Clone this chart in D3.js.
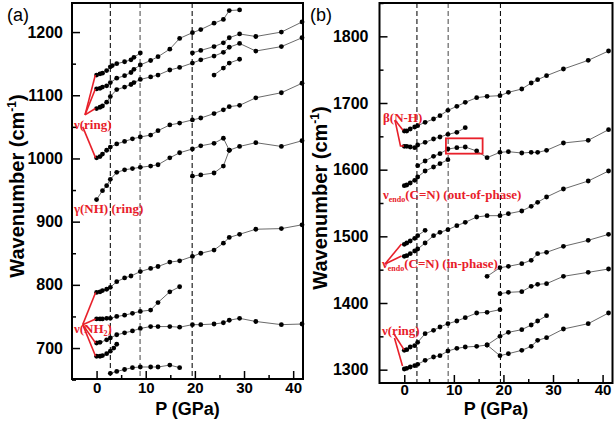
<!DOCTYPE html>
<html><head><meta charset="utf-8">
<script src="https://cdn.jsdelivr.net/npm/d3@7"></script>
<style>body{margin:0;background:#fff} svg{display:block}</style>
</head><body>
<svg id="chart" width="614" height="424"></svg>
<script>
// ---------- Panel (a) data: pressure (GPa) and wavenumber (cm-1) ----------
const a1P = [0,0.7,1.2,2.05,2.8,3.2,4.1,5.7,7.0,7.6,8.9];
const a1V = [1132,1134,1135,1139,1145,1147,1150,1153,1156,1160,1167];
const a2P = [0,0.7,1.2,2.05,2.8,4.1,5.7,7.0,7.6,8.9,11.0,12.5,14.9,16.9,19.5,21.2,23.9,25.8,27.0,29.1];
const a2V = [1110,1111,1113,1115,1120,1127,1131,1136,1141,1148,1155,1161,1173,1190,1199,1204,1214,1220,1234,1235];
const a3P = [0,0.7,1.2,2.05,2.8,4.1,5.7,7.0,7.6,8.9,11.0,12.5,14.9,16.9,19.5,21.2,23.9,25.8,27.0,29.1,32.4,37.6,41.8];
const a3V = [1079,1081,1083,1089,1098,1109,1113,1117,1120,1125,1129,1132,1140,1144,1151,1156,1162,1168,1176,1182,1170,1177,1191];
const a4P = [19.5,21.2,23.9,25.8,27.0,29.1,32.4,37.6,41.8];
const a4V = [1167,1171,1177,1183,1191,1197,1193,1200,1216];
const a5P = [23.9,25.8,27.0,29.1];
const a5V = [1132,1143,1151,1157];
const a6P = [0,0.7,1.2,2.05,2.8,4.1,5.7,7.3,8.9,11.0,12.5,14.9,16.9,19.5,21.2,23.9,25.8,27.0,29.1,32.4,37.6,41.8];
const a6V = [1001,1003,1007,1013,1018,1023,1027,1031,1034,1037,1044,1053,1056,1061,1064,1071,1077,1082,1084,1096,1104,1119];
const a7P = [0,1.2,2.05,2.8,4.1,5.7,7.3,8.9,11.0,12.5,14.9,16.9,19.5,21.2,23.9,25.8,27.0,29.1,32.4,37.6,41.8];
const a7V = [935,949,957,967,978,982,984,986,988,990,1001,1009,1015,1020,1024,1032,1013,1019,1025,1019,1028];
const a8P = [19.5,21.2,23.9,25.8,27.0];
const a8V = [972,974,977,988,1013];
const a9P = [0,0.7,1.2,2.05,2.8,4.1,5.7,7.0,8.9,11.0,12.5,14.9,16.9,19.5,21.2,23.9,25.8,27.0,29.1,32.4,37.6,41.8];
const a9V = [788,789,791,793,796,805,811,814,821,826,829,836,838,845,850,855,866,875,880,888,889,895];
const a10P = [0,0.7,1.2,2.05,2.8,4.1,5.7,7.3,8.9,11.0,12.5,14.9,16.9];
const a10V = [746,746,746,747,747,750,752,755,758,760,772,789,797];
const a11P = [0,0.7,2.05,2.8,4.1,5.7,7.3,8.9,11.0,12.5,14.9,16.9,19.5,21.2,23.9,25.8,27.0,29.1,32.4,37.6,41.8];
const a11V = [708,709,713,716,721,724,727,731,734,734,734,733,737,737,738,740,744,747,742,737,738];
const a12P = [0,0.7,1.2,2.05,2.8,3.5,4.1];
const a12V = [687,687,688,691,695,700,706];
const a13P = [2.8,4.1,5.7,7.3,8.9,11.0,12.5,14.9,16.9];
const a13V = [660,663,666,669,670,670,670,673,669];
const aDashes = [2.8, 8.85, 19.45];
const aYTicks = [700,800,900,1000,1100,1200];
const aYMinor = [650,750,850,950,1050,1150];

// ---------- Panel (b) data ----------
const b1P = [0,0.5,1.2,2.1,2.7,4.2,5.9,7.2,8.8,10.6,12.3,14.6,16.7,19.3,21.0,23.7,25.6,26.9,28.7,32.1,37.1,41.2];
const b1V = [1658,1658,1661,1664,1666,1671,1676,1681,1689,1695,1701,1708,1710,1711,1716,1721,1730,1735,1741,1751,1764,1778];
const b2P = [0,0.5,1.2,2.1,2.7,4.2,5.9,7.2,8.8,10.6,12.3];
const b2V = [1635,1635,1634,1633,1637,1641,1646,1649,1653,1656,1663];
const b3P = [2.7,4.2,5.9,7.2,8.8,10.6,12.3,14.6,16.7,19.3,21.0,23.7,25.6,26.9,28.7,32.1,37.1,41.2];
const b3V = [1606,1613,1620,1624,1631,1633,1634,1628,1618,1626,1627,1625,1626,1626,1629,1640,1644,1660];
const b4P = [0,0.5,1.2,2.1,2.7,4.2,5.9,7.2,8.8];
const b4V = [1576,1577,1580,1584,1589,1598,1604,1609,1615];
const b5P = [0,0.5,1.2,2.1,2.7,4.2];
const b5V = [1488,1490,1493,1497,1501,1509];
const b6P = [0,0.5,1.2,2.1,2.7,4.2,5.9,7.2,8.8,10.6,12.3,14.6,16.7,19.3,21.0,23.7,25.6,26.9,28.7,32.1,37.1,41.2];
const b6V = [1470,1471,1474,1478,1481,1490,1501,1506,1510,1516,1521,1529,1531,1531,1534,1538,1545,1551,1559,1571,1583,1598];
const b7P = [16.7,19.3,21.0,23.7,25.6,26.9,28.7,32.1,37.1,41.2];
const b7V = [1440,1453,1455,1459,1464,1474,1476,1485,1494,1503];
const b8P = [19.3,21.0,23.7,25.6,26.9,28.7,32.1,37.1,41.2];
const b8V = [1414,1416,1417,1425,1428,1429,1440,1446,1451];
const b9P = [0,0.5,1.2,2.1,2.7,4.2,5.9,7.2,8.8,10.6,12.3,14.6,16.7,19.3];
const b9V = [1329,1330,1334,1336,1341,1354,1359,1364,1369,1373,1378,1385,1386,1390];
const b10P = [0,0.5,1.2,2.1,2.7,4.2,5.9,7.2,8.8,10.6,12.3,14.6,16.7,19.3,21.0,23.7,25.6,26.9,28.7,32.1,37.1,41.2];
const b10V = [1301,1302,1304,1306,1308,1314,1319,1321,1328,1332,1334,1335,1337,1321,1324,1329,1335,1344,1348,1361,1369,1385];
const b11P = [16.7,19.3,21.0,23.7,25.6,26.9,28.7];
const b11V = [1337,1350,1356,1360,1367,1373,1381];
const bDashes = [2.55, 8.85, 19.4];
const bYTicks = [1300,1400,1500,1600,1700,1800];
const bYMinor = [1350,1450,1550,1650,1750,1850];

const xTicks = [0,10,20,30,40];
const xMinor = [5,15,25,35];

const RED = '#e8202a';
const svg = d3.select('#chart');

function drawPanel(cfg){
  const x = d3.scaleLinear().domain([-5,42]).range([cfg.left,cfg.right]);
  const y = d3.scaleLinear().domain(cfg.yDomain).range([cfg.bottom,cfg.top]);
  const g = svg.append('g');

  cfg.dashes.forEach((d,i)=>{
    g.append('line').attr('x1',x(d)).attr('x2',x(d)).attr('y1',cfg.top).attr('y2',cfg.bottom)
      .attr('stroke', i===1 ? '#555' : '#111').attr('stroke-width',1.1).attr('stroke-dasharray','5,3');
  });

  const line = d3.line().x(d=>x(d[0])).y(d=>y(d[1]));
  cfg.series.forEach(s=>{
    const pts = s[0].map((p,i)=>[p,s[1][i]]);
    g.append('path').datum(pts).attr('d',line).attr('fill','none').attr('stroke','#444').attr('stroke-width',0.8);
    g.append('g').selectAll('circle').data(pts).join('circle')
      .attr('cx',d=>x(d[0])).attr('cy',d=>y(d[1])).attr('r',2.4).attr('fill','#000');
  });

  // axes
  const fontAx = '"Liberation Sans", Arial, sans-serif';
  const yAx = g.append('g').attr('transform',`translate(${cfg.left},0)`)
    .call(d3.axisLeft(y).tickValues(cfg.yTicks).tickSize(-8).tickPadding(cfg.yPad).tickFormat(d3.format('d')));
  const yMin = g.append('g').attr('transform',`translate(${cfg.left},0)`)
    .call(d3.axisLeft(y).tickValues(cfg.yMinor).tickSize(-4).tickFormat(''));
  const xAx = g.append('g').attr('transform',`translate(0,${cfg.bottom})`)
    .call(d3.axisBottom(x).tickValues(xTicks).tickSize(-8).tickFormat(d3.format('d')));
  const xMin = g.append('g').attr('transform',`translate(0,${cfg.bottom})`)
    .call(d3.axisBottom(x).tickValues(xMinor).tickSize(-4).tickFormat(''));
  [yAx,yMin,xAx,xMin].forEach(a=>{
    a.select('.domain').remove();
    a.selectAll('line').attr('stroke','#000').attr('stroke-width',1.5);
    a.selectAll('text').attr('font-family',fontAx).attr('font-weight','bold').attr('font-size',16).attr('fill','#000');
  });
  xAx.selectAll('text').attr('dy',null).attr('y',cfg.xLabBase).attr('font-size',15);

  g.append('rect').attr('x',cfg.left).attr('y',cfg.top)
    .attr('width',cfg.right-cfg.left).attr('height',cfg.bottom-cfg.top)
    .attr('fill','none').attr('stroke','#000').attr('stroke-width',2);

  // titles
  g.append('text').attr('x',(cfg.left+cfg.right)/2).attr('y',415).attr('text-anchor','middle')
    .attr('font-family',fontAx).attr('font-weight','bold').attr('font-size',18).text('P (GPa)');
  const yt = g.append('text').attr('transform',`translate(${cfg.ytX},${cfg.ytY}) rotate(-90)`)
    .attr('text-anchor','middle').attr('font-family',fontAx).attr('font-weight','bold').attr('font-size',20);
  yt.append('tspan').text('Wavenumber (cm');
  yt.append('tspan').attr('font-size',12).attr('dy',-8).text('-1');
  yt.append('tspan').attr('dy',8).text(')');
  g.append('text').attr('x',cfg.tagX).attr('y',21).attr('font-family',fontAx).attr('font-size',18).text(cfg.tag);

  // annotations
  const fontAn = '"Liberation Serif", "Times New Roman", serif';
  cfg.annLines.forEach(l=>{
    g.append('path').datum(l).attr('d',line).attr('fill','none').attr('stroke',RED).attr('stroke-width',1.6);
  });
  cfg.annTexts.forEach(t=>{
    const tx = g.append('text').attr('x',x(t.p)).attr('y',y(t.v))
      .attr('font-family',fontAn).attr('font-weight','bold').attr('font-size',13).attr('fill',RED);
    t.parts.forEach(pt=>{
      const sp = tx.append('tspan').text(pt[0]);
      if(pt[1]==='sub'){ sp.attr('font-size',8).attr('dy',3); }
      if(pt[1]==='back'){ sp.attr('dy',-3); }
    });
  });
  if(cfg.box){
    const b = cfg.box;
    g.append('rect').attr('x',x(b[0])).attr('y',y(b[3])).attr('width',x(b[1])-x(b[0])).attr('height',y(b[2])-y(b[3]))
      .attr('fill','none').attr('stroke',RED).attr('stroke-width',1.8);
  }
}

drawPanel({
  left:72, right:303, top:3, bottom:379, yDomain:[651,1246],
  yTicks:aYTicks, yMinor:aYMinor, yPad:9, xLabBase:14, dashes:aDashes,
  ytX:24, ytY:186, tag:'(a)', tagX:7,
  series:[[a1P,a1V],[a2P,a2V],[a3P,a3V],[a4P,a4V],[a5P,a5V],[a6P,a6V],[a7P,a7V],
          [a8P,a8V],[a9P,a9V],[a10P,a10V],[a11P,a11V],[a12P,a12V],[a13P,a13V]],
  annLines:[
    [[-2.35,1069],[-0.25,1132]],
    [[-2.35,1069],[-0.25,1110]],
    [[-2.35,1069],[-0.25,1079]],
    [[-2.82,1050],[-0.2,1001]],
    [[-2.82,737],[-0.2,788]],
    [[-2.82,737],[-0.2,746]],
    [[-2.82,737],[-0.2,708]],
    [[-2.82,737],[-0.2,687]]
  ],
  annTexts:[
    {p:-4.6, v:1046, parts:[['ν(ring)']]},
    {p:-4.6, v:913, parts:[['γ(NH) (ring)']]},
    {p:-4.6, v:724, parts:[['ν(NH'],['2','sub'],[')','back']]}
  ]
});

drawPanel({
  left:379.5, right:612.5, top:3, bottom:383, yDomain:[1280,1850],
  yTicks:bYTicks, yMinor:bYMinor, yPad:11, xLabBase:11.5, dashes:bDashes,
  ytX:327, ytY:198, tag:'(b)', tagX:310,
  series:[[b1P,b1V],[b2P,b2V],[b3P,b3V],[b4P,b4V],[b5P,b5V],[b6P,b6V],
          [b7P,b7V],[b8P,b8V],[b9P,b9V],[b10P,b10V],[b11P,b11V]],
  annLines:[
    [[-1.88,1674.5],[-0.26,1659]],
    [[-1.88,1674.5],[-0.77,1635.5],[-0.06,1635.5]],
    [[-3.89,1458.5],[-0.56,1488.5]],
    [[-3.89,1458.5],[-0.56,1470.5]],
    [[-2.08,1353.5],[-0.06,1330]],
    [[-1.98,1347.5],[-0.36,1305.5]]
  ],
  annTexts:[
    {p:-4.3, v:1671.5, parts:[['β(N-H)']]},
    {p:-4.3, v:1556, parts:[['ν'],['endo','sub'],['(C=N) (out-of-phase)','back']]},
    {p:-4.5, v:1452.5, parts:[['ν'],['endo','sub'],['(C=N) (in-phase)','back']]},
    {p:-4.5, v:1352, parts:[['ν(ring)']]}
  ],
  box:[8.4,15.8,1624,1647]
});
</script>
</body></html>
